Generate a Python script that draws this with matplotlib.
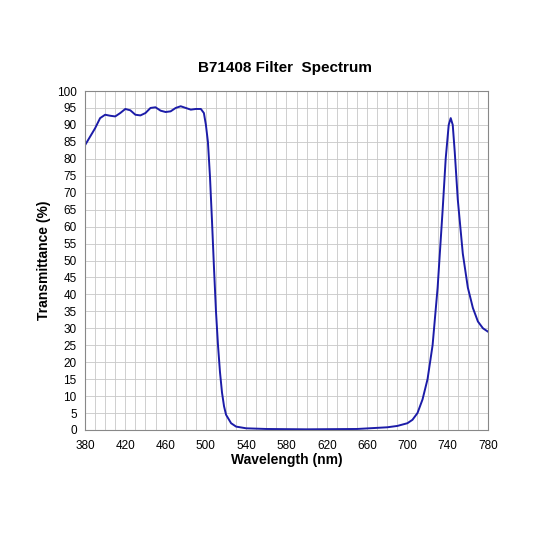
import matplotlib
matplotlib.use("Agg")
import matplotlib.pyplot as plt

wavelength = [380,385,390,395,400,405,410,415,420,425,430,435,440,445,450,455,460,465,470,475,480,485,490,495,498,500,502,504,506,508,510,512,514,516,518,520,525,530,540,560,600,650,680,690,700,705,710,715,720,725,730,735,738,741,743,745,747,750,755,760,765,770,775,780]
transmittance = [84,86.5,89,92,93,92.7,92.5,93.5,94.7,94.3,93,92.8,93.5,95,95.2,94.2,93.8,94,95,95.5,95,94.5,94.7,94.7,93.5,90,85,75,62,48,35,25,17,11,7,4.5,2,1,0.5,0.3,0.2,0.3,0.8,1.2,2,3,5,9,15,25,42,65,80,90,92,90,82,68,52,42,36,32,30,29]
xticks = list(range(380, 781, 40))
yticks = list(range(0, 101, 5))

plt.rcParams['font.family'] = ['Liberation Sans', 'DejaVu Sans']
fig = plt.figure(figsize=(5.33, 5.33), dpi=100)
ax = fig.add_axes([85/533, 1-430/533, 403/533, 339/533])
ax.plot(wavelength, transmittance, color='#1c1ca8', lw=1.4)
ax.set_xlim(380, 780)
ax.set_ylim(0, 100)
ax.set_xticks(xticks)
ax.set_yticks(yticks)
ax.set_xticks(range(380, 781, 10), minor=True)
ax.grid(True, which='both', color='#c8c8c8', lw=0.6)
ax.tick_params(labelsize=8.5, length=0, which='both')
ax.tick_params(axis='x', pad=7)
ax.tick_params(axis='y', pad=6)
for s in ax.spines.values():
    s.set_color('#888888')
ax.set_xlabel('Wavelength (nm)', fontsize=10, fontweight='bold', labelpad=1)
ax.set_ylabel('Transmittance (%)', fontsize=10, fontweight='bold')
fig.text(285/533, 1-68/533, 'B71408 Filter  Spectrum', ha='center', va='center', fontsize=11, fontweight='bold')
fig.savefig('out.png', dpi=100)
